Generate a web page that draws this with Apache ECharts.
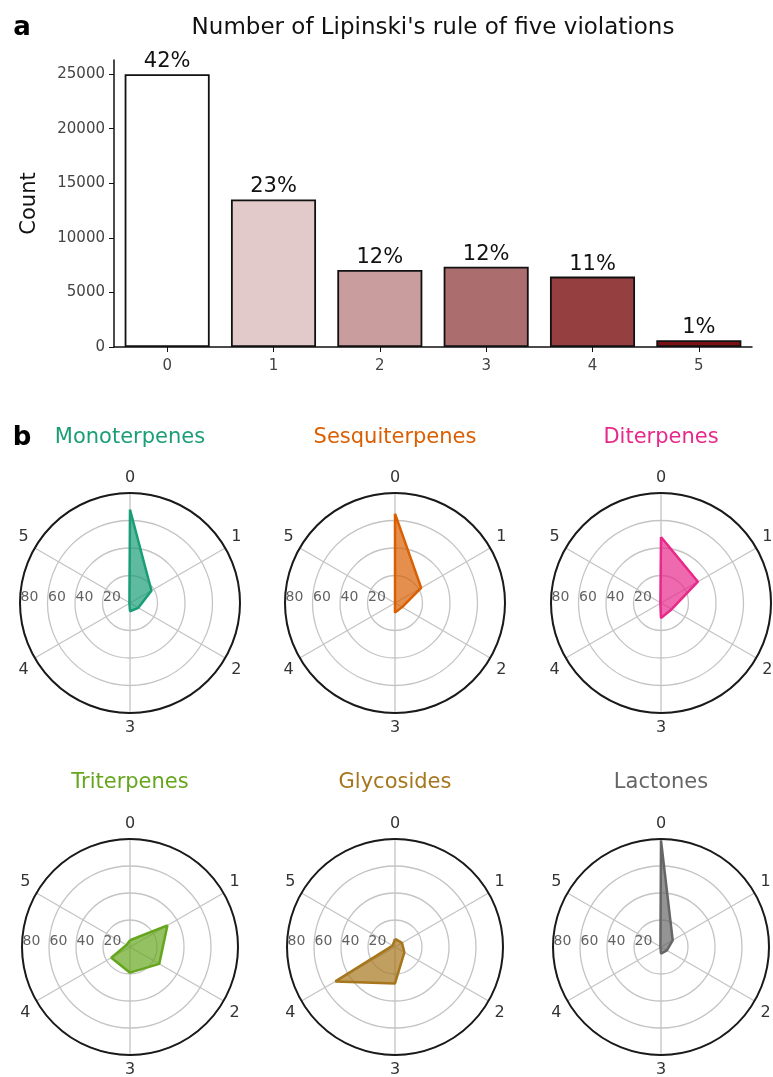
<!DOCTYPE html>
<html>
<head>
<meta charset="utf-8">
<script src="https://cdn.jsdelivr.net/npm/echarts@6/dist/echarts.min.js"></script>
<style>
  html, body { margin: 0; padding: 0; background: #fff; }
  #chart { width: 773px; height: 1077px; }
</style>
</head>
<body>
<div id="chart"></div>
<script>
// Panel a: compounds by number of Lipinski rule-of-five violations
const violationLabels = ['0', '1', '2', '3', '4', '5'];
const violationCounts = [25000, 13520, 7050, 7350, 6450, 630];
const barColors = ['#ffffff', '#e2cacb', '#c99c9d', '#ac6d6e', '#953f41', '#7a1013'];
const countTicks = [0, 5000, 10000, 15000, 20000, 25000];

// Panel b: percentage of each class with 0..5 violations
const classNames = ['Monoterpenes', 'Sesquiterpenes', 'Diterpenes', 'Triterpenes', 'Glycosides', 'Lactones'];
const classColors = ['#1b9e77', '#d95f02', '#e7298a', '#66a61e', '#a6761d', '#666666'];
const monoterpenes   = [68, 18, 7, 6, 0.5, 0.5];
const sesquiterpenes = [65, 22, 6, 7, 0, 0];
const diterpenes     = [48, 31, 9, 11, 0.5, 0.5];
const triterpenes    = [5, 32, 25, 19, 16, 3];
const glycosides     = [6, 6, 8, 27, 51, 2];
const lactones       = [79, 10, 5, 5, 0.5, 0.5];
const classValues = [monoterpenes, sesquiterpenes, diterpenes, triterpenes, glycosides, lactones];
const ringTicks = [20, 40, 60, 80];

const FONT = 'DejaVu Sans, Liberation Sans, Arial, sans-serif';
const total = violationCounts.reduce((a, b) => a + b, 0);
const pctLabels = violationCounts.map(v => Math.round(v / total * 100) + '%');

const chart = echarts.init(document.getElementById('chart'), null, { renderer: 'canvas' });

// polar panel layout
const colX = [130, 395, 661];
const rowY = [603, 947];
const rowR = [110, 108];
const stepAngle = 360 / violationLabels.length;

const polar = [], angleAxis = [], radiusAxis = [], series = [], graphic = [];

classNames.forEach((name, i) => {
  const row = Math.floor(i / 3), col = i % 3;
  polar.push({ center: [colX[col], rowY[row]], radius: rowR[row] });
  angleAxis.push({
    polarIndex: i, type: 'value', min: 0, max: 360, interval: stepAngle,
    startAngle: 90, clockwise: true,
    axisLine: { lineStyle: { color: '#1a1a1a', width: 2 } },
    axisTick: { show: false },
    splitLine: { show: true, lineStyle: { color: '#c4c4c4', width: 1.3 } },
    axisLabel: {
      margin: 7, fontSize: 16, color: '#333', fontFamily: FONT,
      formatter: v => v < 360 ? violationLabels[Math.round(v / stepAngle)] : ''
    }
  });
  radiusAxis.push({
    polarIndex: i, type: 'value', min: 0, max: 80, interval: 20,
    axisLine: { show: false }, axisTick: { show: false }, axisLabel: { show: false },
    splitLine: { show: true, lineStyle: { color: '#c4c4c4', width: 1.3 } }
  });
  const vals = classValues[i];
  const pts = vals.map((v, k) => [v, k * stepAngle]);
  pts.push([vals[0], 360]);
  series.push({
    type: 'line', coordinateSystem: 'polar', polarIndex: i,
    data: pts, symbol: 'none', smooth: false, z: 3,
    lineStyle: { color: classColors[i], width: 2.5 },
    areaStyle: { color: classColors[i], opacity: 0.7 }
  });
  // radial ring labels on the left side
  series.push({
    type: 'scatter', coordinateSystem: 'polar', polarIndex: i,
    data: ringTicks.map(r => [r, 270]), symbolSize: 1, z: 2,
    itemStyle: { color: 'rgba(0,0,0,0)' },
    label: {
      show: true, position: 'right', distance: 0, offset: [0, -6],
      formatter: p => String(p.value[0]), fontSize: 14, color: '#3a3a3a', fontFamily: FONT
    },
    silent: true
  });
  graphic.push({
    type: 'text', x: colX[col], y: row === 0 ? 438 : 783,
    style: { text: name, font: '21px ' + FONT, fill: classColors[i], textAlign: 'center', textVerticalAlign: 'middle' }
  });
});

graphic.push(
  { type: 'text', x: 22, y: 28, style: { text: 'a', font: 'bold 26px ' + FONT, fill: '#000', textAlign: 'center', textVerticalAlign: 'middle' } },
  { type: 'text', x: 22, y: 438, style: { text: 'b', font: 'bold 26px ' + FONT, fill: '#000', textAlign: 'center', textVerticalAlign: 'middle' } },
  { type: 'text', x: 433, y: 28, style: { text: "Number of Lipinski's rule of five violations", font: '23px ' + FONT, fill: '#111', textAlign: 'center', textVerticalAlign: 'middle' } }
);

series.push({
  type: 'bar', xAxisIndex: 0, yAxisIndex: 0, barCategoryGap: '20%',
  data: violationCounts.map((v, k) => ({ value: v, itemStyle: { color: barColors[k] } })),
  itemStyle: { borderColor: '#111', borderWidth: 1.8 },
  label: {
    show: true, position: 'top', distance: 2, fontSize: 21, color: '#111', fontFamily: FONT,
    formatter: p => pctLabels[p.dataIndex]
  }
});

chart.setOption({
  animation: false,
  backgroundColor: '#fff',
  textStyle: { fontFamily: FONT },
  grid: { left: 114, right: 21, top: 60, bottom: 730, containLabel: false },
  xAxis: {
    type: 'category', data: violationLabels,
    axisLine: { lineStyle: { color: '#111', width: 1.5 } },
    axisTick: { show: true, alignWithLabel: true, length: 5, lineStyle: { color: '#111' } },
    axisLabel: { fontSize: 15, color: '#444', margin: 12, fontFamily: FONT }
  },
  yAxis: {
    type: 'value', min: 0, max: 26300,
    name: 'Count', nameLocation: 'middle', nameGap: 74, nameRotate: 90,
    nameTextStyle: { fontSize: 21, color: '#111', fontFamily: FONT },
    axisLine: { show: true, lineStyle: { color: '#111', width: 1.5 } },
    axisTick: { show: true, length: 5, customValues: countTicks, lineStyle: { color: '#111' } },
    axisLabel: { fontSize: 15, color: '#444', margin: 9, customValues: countTicks, fontFamily: FONT, formatter: v => String(v) },
    splitLine: { show: false }
  },
  polar, angleAxis, radiusAxis, series, graphic
});
</script>
</body>
</html>
